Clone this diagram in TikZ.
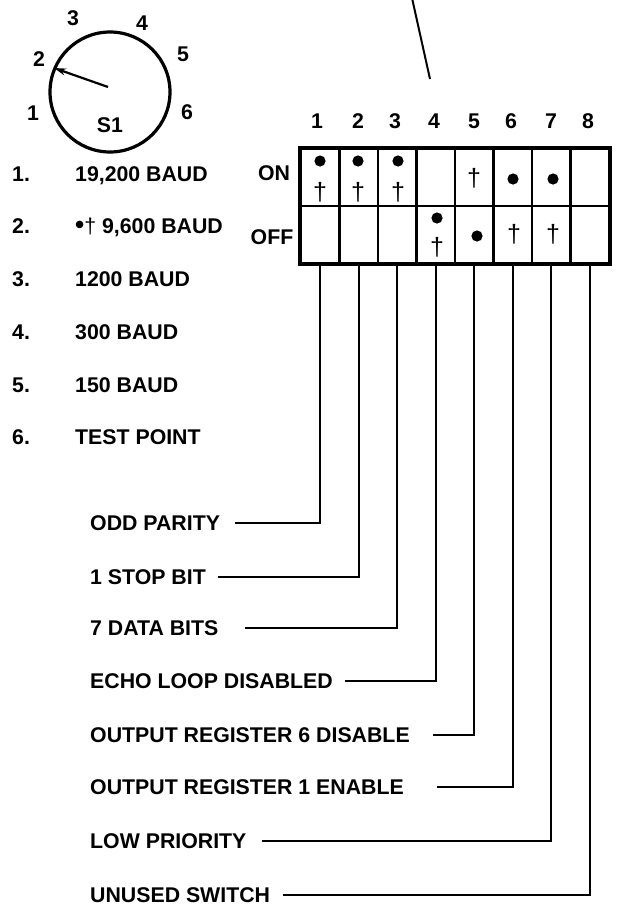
\documentclass[tikz,border=0pt]{standalone}
\usepackage{fontspec}
\setmainfont{Liberation Sans}
\usetikzlibrary{arrows.meta}
\begin{document}
\begin{tikzpicture}[x=1pt,y=-1pt,
  lbl/.style={font=\fontsize{21.3}{25}\selectfont\bfseries, inner sep=0pt, text height=15.2pt, text depth=0pt},
  cell/.style={draw, line width=2.4pt, minimum width=38.5pt, minimum height=57.5pt, inner sep=0pt},
  lead/.style={line width=2.2pt},
  dag/.style={font=\fontsize{25}{28}\selectfont, inner sep=0pt},
  dot/.style={fill=black},
]
\useasboundingbox (0,0) rectangle (618,911);

% ---- pointer line at top
\coordinate (pt) at (412,-2);
\coordinate (pb) at (430,79);
\draw[line width=2pt] (pt) -- (pb);

% ---- rotary switch S1
\node[draw, circle, minimum size=120pt, line width=3.2pt, inner sep=0pt] (dial) at (110,92) {};
\coordinate (dc) at (108,87);
\coordinate (dt) at (54,68);
\draw[line width=2.2pt, -{Stealth[length=12pt,width=7pt]}] (dc) -- (dt);
\node[lbl] (p3) at (73,18) {3};
\node[lbl] (p4) at (142,23) {4};
\node[lbl] (p2) at (39,59) {2};
\node[lbl] (p5) at (183,54) {5};
\node[lbl] (p1) at (33,113) {1};
\node[lbl] (p6) at (187,112) {6};
\node[lbl] (s1) at (110,125) {S1};

% ---- baud list
\foreach \n/\y/\t in {1/174/{19,200 BAUD}, 2/226/{{\fontsize{26}{25}\selectfont•}{\mdseries†} 9,600 BAUD}, 3/279/{1200 BAUD},
                      4/332/{300 BAUD}, 5/385/{150 BAUD}, 6/437/{TEST POINT}} {
  \node[lbl, anchor=west] (bn\n) at (12,\y) {\n.};
  \node[lbl, anchor=west] (bt\n) at (75,\y) {\t};
}

% ---- DIP switch table
\foreach \i in {1,...,8} {
  \node[cell] (on\i) at ({301+38.5*(\i-0.5)},177.25) {};
  \node[cell] (off\i) at ({301+38.5*(\i-0.5)},234.75) {};
}
\draw[line width=3pt] (on1.north west) rectangle (off8.south east);
\foreach \i/\x in {1/317,2/358,3/395,4/434,5/474,6/511,7/551,8/588} {
  \node[lbl] (cn\i) at (\x,121) {\i};
}
\node[lbl] (onl) at (274,173) {ON};
\node[lbl] (offl) at (272,237) {OFF};

% dots
\fill[dot] (320,161) circle (5.6);
\fill[dot] (358,161) circle (5.6);
\fill[dot] (398,161) circle (5.6);
\fill[dot] (513,179) circle (5.6);
\fill[dot] (553,179) circle (5.6);
\fill[dot] (437,218) circle (5.6);
\fill[dot] (477,236) circle (5.6);
% daggers
\node[dag] (g1) at (320,192) {†};
\node[dag] (g2) at (358,192) {†};
\node[dag] (g3) at (398,192) {†};
\node[dag] (g5) at (474,178) {†};
\node[dag] (g4) at (437,247) {†};
\node[dag] (g6) at (514,234) {†};
\node[dag] (g7) at (553,234) {†};

% ---- function labels and leaders
\foreach \k/\y/\sx/\t in {1/523/235/{ODD PARITY}, 2/577/218/{1 STOP BIT}, 3/628/245/{7 DATA BITS},
                          4/681/345/{ECHO LOOP DISABLED}, 5/735/433/{OUTPUT REGISTER 6 DISABLE},
                          6/787/437/{OUTPUT REGISTER 1 ENABLE}, 7/841/262/{LOW PRIORITY},
                          8/895/283/{UNUSED SWITCH}} {
  \node[lbl, anchor=west] (f\k) at (90,\y) {\t};
  \coordinate (fs\k) at (\sx,\y);
  \draw[lead] (fs\k) -| (off\k.south);
}
\end{tikzpicture}
\end{document}
